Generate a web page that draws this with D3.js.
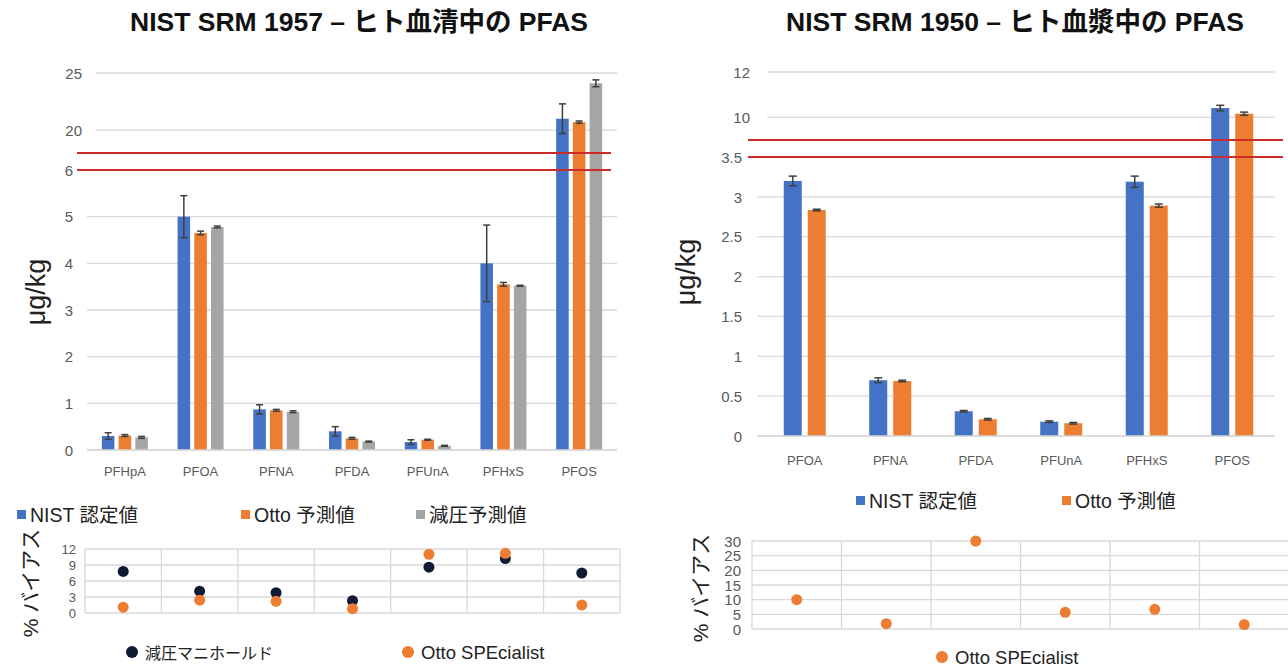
<!DOCTYPE html>
<html>
<head>
<meta charset="utf-8">
<script src="https://cdn.jsdelivr.net/npm/d3@7"></script>
<style>
body { margin: 0; background: #fff; }
svg { display: block; font-family: "Liberation Sans", "Noto Sans CJK JP", sans-serif; }
</style>
</head>
<body>
<svg id="chart"></svg>
<script>
// SRM 1957 (serum)
var catsL = ['PFHpA', 'PFOA', 'PFNA', 'PFDA', 'PFUnA', 'PFHxS', 'PFOS']
var nistL = [0.30, 5.00, 0.87, 0.40, 0.17, 4.00, 21.0]
var nistLErr = [0.07, 0.45, 0.10, 0.10, 0.05, 0.82, 1.3]
var ottoL = [0.31, 4.65, 0.85, 0.25, 0.22, 3.55, 20.7]
var ottoLErr = [0.02, 0.04, 0.02, 0.02, 0.01, 0.04, 0.1]
var vacL = [0.27, 4.78, 0.82, 0.18, 0.09, 3.52, 24.1]
var vacLErr = [0.02, 0.02, 0.02, 0.01, 0.01, 0.01, 0.3]
var biasVacL = [7.8, 4.1, 3.8, 2.3, 8.6, 10.2, 7.5]
var biasOttoL = [1.1, 2.4, 2.2, 0.8, 11.0, 11.2, 1.5]
var lowTicksL = [0, 1, 2, 3, 4, 5, 6]
var highTicksL = [20, 25]
var biasTicksL = [0, 3, 6, 9, 12]

// SRM 1950 (plasma)
var catsR = ['PFOA', 'PFNA', 'PFDA', 'PFUnA', 'PFHxS', 'PFOS']
var nistR = [3.20, 0.70, 0.31, 0.18, 3.19, 10.41]
var nistRErr = [0.06, 0.03, 0.01, 0.01, 0.07, 0.12]
var ottoR = [2.835, 0.69, 0.21, 0.16, 2.89, 10.16]
var ottoRErr = [0.01, 0.01, 0.01, 0.01, 0.02, 0.07]
var biasOttoR = [10, 1.8, 30, 5.7, 6.7, 1.5]
var lowTicksR = [0, 0.5, 1, 1.5, 2, 2.5, 3, 3.5]
var highTicksR = [10, 12]
var biasTicksR = [0, 5, 10, 15, 20, 25, 30]

var BLUE = '#4472c4', ORANGE = '#ed7d31', GRAY = '#a5a5a5', NAVY = '#111a35'
var RED = '#cc2b2b', GRID = '#d9d9d9', TXT = '#595959'
var fmt = d3.format('~g')

var svg = d3.select('#chart').attr('width', 1288).attr('height', 667)

function barPanel (c) {
  var g = svg.append('g')
  var x0 = d3.scaleBand().domain(c.cats).range(c.xRange)
  var x1 = d3.scaleBand().domain(d3.range(c.series.length))
    .range([-c.groupW / 2, c.groupW / 2]).paddingInner(0.25)
  var yLo = d3.scaleLinear().domain([0, d3.max(c.lowTicks)]).range(c.loRange)
  var yHi = d3.scaleLinear().domain(c.hiDomain).range(c.hiRange)
  var y = function (v) { return v <= yLo.domain()[1] ? yLo(v) : yHi(v) }

  // gridlines (top of lower part is the red break line)
  g.selectAll('.glo').data(c.lowTicks.slice(0, -1)).enter().append('line')
    .attr('x1', c.loGrid[0]).attr('x2', c.loGrid[1])
    .attr('y1', yLo).attr('y2', yLo)
    .attr('stroke', GRID).attr('stroke-width', 1.3)
  g.selectAll('.ghi').data(c.highTicks).enter().append('line')
    .attr('x1', c.hiGrid[0]).attr('x2', c.hiGrid[1])
    .attr('y1', yHi).attr('y2', yHi)
    .attr('stroke', GRID).attr('stroke-width', 1.3)

  // tick labels
  var axLo = g.append('g').attr('transform', 'translate(' + c.loLabelX + ',0)')
    .call(d3.axisLeft(yLo).tickValues(c.lowTicks).tickFormat(fmt).tickSize(0).tickPadding(0))
  var axHi = g.append('g').attr('transform', 'translate(' + c.hiLabelX + ',0)')
    .call(d3.axisLeft(yHi).tickValues(c.highTicks).tickFormat(fmt).tickSize(0).tickPadding(0))
  ;[axLo, axHi].forEach(function (a) {
    a.select('.domain').remove()
    a.selectAll('text').attr('fill', TXT).attr('font-size', 15).attr('dy', '0.35em')
  })

  // bars + error bars
  c.series.forEach(function (s, si) {
    var data = c.cats.map(function (k, i) { return { k: k, v: s.vals[i], e: s.errs[i] } })
    var cx = function (d) { return x0(d.k) + x0.bandwidth() / 2 + x1(si) }
    g.selectAll('.bar' + si).data(data).enter().append('rect')
      .attr('x', cx).attr('width', x1.bandwidth())
      .attr('y', function (d) { return y(d.v) })
      .attr('height', function (d) { return yLo(0) - y(d.v) })
      .attr('fill', s.color)
    var eb = g.selectAll('.err' + si).data(data).enter().append('g')
      .attr('stroke', '#3f3f3f').attr('stroke-width', 1.5)
    var mid = function (d) { return cx(d) + x1.bandwidth() / 2 }
    eb.append('line').attr('x1', mid).attr('x2', mid)
      .attr('y1', function (d) { return y(d.v - d.e) })
      .attr('y2', function (d) { return y(d.v + d.e) })
    ;[1, -1].forEach(function (sg) {
      eb.append('line')
        .attr('x1', function (d) { return mid(d) - c.cap }).attr('x2', function (d) { return mid(d) + c.cap })
        .attr('y1', function (d) { return y(d.v + sg * d.e) })
        .attr('y2', function (d) { return y(d.v + sg * d.e) })
    })
  })

  // base line + category labels
  g.append('line').attr('x1', c.loGrid[0]).attr('x2', c.loGrid[1])
    .attr('y1', yLo(0)).attr('y2', yLo(0)).attr('stroke', GRID).attr('stroke-width', 1.3)
  var ax = g.append('g').attr('transform', 'translate(0,' + yLo(0) + ')')
    .call(d3.axisBottom(x0).tickSize(0).tickPadding(c.xPad))
  ax.select('.domain').remove()
  ax.selectAll('text').attr('fill', TXT).attr('font-size', 13)

  // axis break marks
  g.selectAll('.brk').data([yLo(yLo.domain()[1]), yHi(yHi.domain()[0])]).enter().append('line')
    .attr('x1', c.redX[0]).attr('x2', c.redX[1])
    .attr('y1', function (d) { return d }).attr('y2', function (d) { return d })
    .attr('stroke', RED).attr('stroke-width', 2)

  g.append('text').attr('transform', 'translate(' + c.yTitle[0] + ',' + c.yTitle[1] + ') rotate(-90)')
    .attr('text-anchor', 'middle').attr('font-size', 27).attr('fill', '#222').text('μg/kg')
  g.append('text').attr('x', c.title[0]).attr('y', c.title[1]).attr('text-anchor', 'middle')
    .attr('font-size', 26.5).attr('font-weight', 'bold').attr('fill', '#111').text(c.titleText)
}

function biasPanel (c) {
  var g = svg.append('g')
  var x = d3.scaleBand().domain(c.cats).range(c.xRange)
  var y = d3.scaleLinear().domain([0, d3.max(c.ticks)]).range(c.yRange)
  g.selectAll('.hg').data(c.ticks).enter().append('line')
    .attr('x1', c.xRange[0]).attr('x2', c.xRange[1])
    .attr('y1', y).attr('y2', y).attr('stroke', GRID).attr('stroke-width', 1.3)
  g.selectAll('.vg').data(c.cats.map(x).concat([c.xRange[1]])).enter().append('line')
    .attr('x1', function (d) { return d }).attr('x2', function (d) { return d })
    .attr('y1', c.yRange[0]).attr('y2', c.yRange[1]).attr('stroke', GRID).attr('stroke-width', 1.3)
  var ax = g.append('g').attr('transform', 'translate(' + c.labelX + ',0)')
    .call(d3.axisLeft(y).tickValues(c.ticks).tickSize(0).tickPadding(0))
  ax.select('.domain').remove()
  ax.selectAll('text').attr('fill', TXT).attr('font-size', c.tickFont).attr('dy', '0.35em')
  c.series.forEach(function (s) {
    g.selectAll(null).data(s.vals).enter().append('circle')
      .attr('cx', function (d, i) { return x(c.cats[i]) + x.bandwidth() / 2 })
      .attr('cy', function (d) { return y(d) })
      .attr('r', 5.5).attr('fill', s.color)
  })
  g.append('text').attr('transform', 'translate(' + c.yTitle[0] + ',' + c.yTitle[1] + ') rotate(-90)')
    .attr('text-anchor', 'middle').attr('font-size', 21).attr('fill', '#222').text('% バイアス')
}

function legend (items, y, shape) {
  items.forEach(function (it) {
    if (shape === 'square') {
      svg.append('rect').attr('x', it.x).attr('y', y - 6).attr('width', 9).attr('height', 9).attr('fill', it.color)
    } else {
      svg.append('circle').attr('cx', it.x + 5).attr('cy', y - 1).attr('r', 6).attr('fill', it.color)
    }
    svg.append('text').attr('x', it.x + (shape === 'square' ? 13 : 18)).attr('y', y + 6)
      .attr('font-size', it.size).attr('fill', '#222').text(it.label)
  })
}

barPanel({
  cats: catsL,
  series: [
    { vals: nistL, errs: nistLErr, color: BLUE },
    { vals: ottoL, errs: ottoLErr, color: ORANGE },
    { vals: vacL, errs: vacLErr, color: GRAY }
  ],
  xRange: [87, 617], groupW: 46, cap: 3.5,
  lowTicks: lowTicksL, loRange: [450, 170],
  highTicks: highTicksL, hiDomain: [18, 25], hiRange: [153, 73],
  loGrid: [87, 617], hiGrid: [96, 617], redX: [77, 611],
  loLabelX: 73, hiLabelX: 82, xPad: 17,
  yTitle: [45, 292], title: [359, 31], titleText: 'NIST SRM 1957 – ヒト血清中の PFAS'
})

barPanel({
  cats: catsR,
  series: [
    { vals: nistR, errs: nistRErr, color: BLUE },
    { vals: ottoR, errs: ottoRErr, color: ORANGE }
  ],
  xRange: [762, 1275], groupW: 42, cap: 4,
  lowTicks: lowTicksR, loRange: [436, 157],
  highTicks: highTicksR, hiDomain: [9, 12], hiRange: [140, 72],
  loGrid: [757, 1275], hiGrid: [767, 1275], redX: [748, 1283],
  loLabelX: 742, hiLabelX: 750, xPad: 20,
  yTitle: [695, 272], title: [1015, 31], titleText: 'NIST SRM 1950 – ヒト血漿中の PFAS'
})

biasPanel({
  cats: catsL, ticks: biasTicksL, xRange: [85, 620], yRange: [613, 549],
  labelX: 76, tickFont: 13, yTitle: [38, 583],
  series: [{ vals: biasVacL, color: NAVY }, { vals: biasOttoL, color: ORANGE }]
})

biasPanel({
  cats: catsR, ticks: biasTicksR, xRange: [752, 1289], yRange: [629, 541],
  labelX: 741, tickFont: 15, yTitle: [708, 588],
  series: [{ vals: biasOttoR, color: ORANGE }]
})

legend([
  { x: 17, label: 'NIST 認定値', color: BLUE, size: 19.5 },
  { x: 241, label: 'Otto 予測値', color: ORANGE, size: 19.5 },
  { x: 416, label: '減圧予測値', color: GRAY, size: 19.5 }
], 516, 'square')
legend([
  { x: 856, label: 'NIST 認定値', color: BLUE, size: 19.5 },
  { x: 1062, label: 'Otto 予測値', color: ORANGE, size: 19.5 }
], 502, 'square')
legend([
  { x: 127, label: '減圧マニホールド', color: NAVY, size: 16 },
  { x: 403, label: 'Otto SPEcialist', color: ORANGE, size: 18.5 }
], 653, 'circle')
legend([
  { x: 937, label: 'Otto SPEcialist', color: ORANGE, size: 18.5 }
], 658, 'circle')
</script>
</body>
</html>
